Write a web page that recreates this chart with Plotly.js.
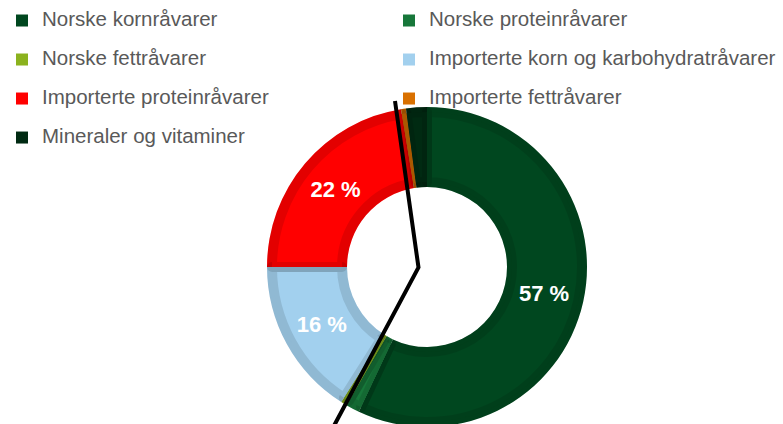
<!DOCTYPE html>
<html>
<head>
<meta charset="utf-8">
<script src="https://cdn.plot.ly/plotly-3.0.1.min.js"></script>
<style>
html,body{margin:0;padding:0;overflow:hidden;background:#ffffff;}
#chart{width:783px;height:432px;}
</style>
</head>
<body>
<div id="chart"></div>
<script>
// ---- data ----
const categories = [
  'Norske kornråvarer',
  'Norske proteinråvarer',
  'Norske fettråvarer',
  'Importerte korn og karbohydratråvarer',
  'Importerte proteinråvarer',
  'Importerte fettråvarer',
  'Mineraler og vitaminer'
];
const shares = [57, 1.4, 0.6, 16, 22.4, 0.5, 2.1];
const sliceColors = ['#00471f', '#17773a', '#8bb21e', '#a2d0ee', '#ff0000', '#d97000', '#002a12'];

// ---- derived ----
const sliceText = shares.map(v => v >= 10 ? Math.round(v) + ' %' : '');
const legendLabels = categories.map(c => '<span style="font-size:20.5px">' + c + '</span><br> ');

const W = 783, H = 432;
const cx = 427, cy = 267;
function dom(r) {
  return {
    x: [(cx - r) / W, (cx + r) / W],
    y: [1 - (cy + r) / H, 1 - (cy - r) / H]
  };
}

const basePie = {
  type: 'pie',
  labels: legendLabels,
  values: shares,
  sort: false,
  direction: 'clockwise',
  rotation: 0,
  hole: 0.5,
  domain: dom(160),
  marker: {colors: sliceColors, line: {width: 0}},
  textinfo: 'none',
  hoverinfo: 'none',
  showlegend: true
};

const rimPie = {
  type: 'pie',
  labels: legendLabels,
  values: shares,
  sort: false,
  direction: 'clockwise',
  rotation: 0,
  hole: 85 / 155,
  domain: dom(155),
  marker: {colors: sliceColors, line: {width: 10, color: 'rgba(0,0,0,0.11)'}},
  text: sliceText,
  textinfo: 'text',
  textposition: 'inside',
  insidetextorientation: 'horizontal',
  insidetextfont: {family: 'Liberation Sans, Arial, sans-serif', size: 22, color: '#ffffff', weight: 'bold'},
  hoverinfo: 'none',
  showlegend: false
};

const P = (px, py) => (px / W).toFixed(5) + ',' + (1 - py / H).toFixed(5);

const layout = {
  width: W,
  height: H,
  margin: {l: 0, r: 0, t: 0, b: 0},
  paper_bgcolor: '#ffffff',
  plot_bgcolor: '#ffffff',
  font: {family: 'Liberation Sans, Arial, sans-serif', color: '#595959'},
  showlegend: true,
  legend: {
    orientation: 'h',
    x: 2 / W,
    xanchor: 'left',
    y: 1 - 5 / H,
    yanchor: 'top',
    entrywidth: 342,
    entrywidthmode: 'pixels',
    valign: 'top',
    bgcolor: 'rgba(0,0,0,0)',
    font: {family: 'Liberation Sans, Arial, sans-serif', size: 13.85, color: '#595959'}
  },
  shapes: [{
    type: 'path',
    xref: 'paper',
    yref: 'paper',
    path: 'M' + P(395, 101) + ' L' + P(418.5, 267.5) + ' L' + P(332.8, 428),
    line: {color: '#000000', width: 4}
  }]
};

Plotly.newPlot('chart', [basePie, rimPie], layout, {displayModeBar: false, staticPlot: true});
</script>
</body>
</html>
